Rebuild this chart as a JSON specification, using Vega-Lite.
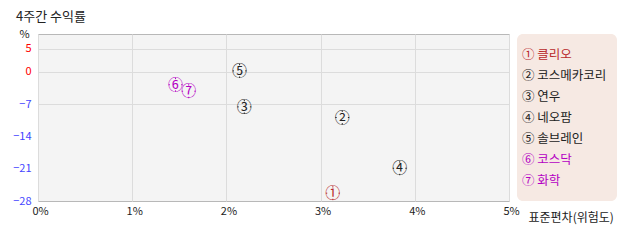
{
  "$schema": "https://vega.github.io/schema/vega-lite/v6.json",
  "width": 471,
  "height": 167,
  "autosize": {"type": "none"},
  "padding": {"left": 38, "top": 34, "right": 129, "bottom": 41},
  "background": "white",
  "title": {"text": "4주간 수익률", "anchor": "start", "frame": "group", "dx": -22, "offset": 4, "fontSize": 13, "fontWeight": "normal", "font": "Noto Sans CJK KR", "color": "#222"},
  "data": {"values": [
    {"num": "①", "label": "① 클리오", "risk": 3.13, "ret": -26.3},
    {"num": "②", "label": "② 코스메카코리", "risk": 3.23, "ret": -9.9},
    {"num": "③", "label": "③ 연우", "risk": 2.19, "ret": -7.6},
    {"num": "④", "label": "④ 네오팜", "risk": 3.84, "ret": -20.9},
    {"num": "⑤", "label": "⑤ 솔브레인", "risk": 2.14, "ret": 0.2},
    {"num": "⑥", "label": "⑥ 코스닥", "risk": 1.46, "ret": -2.8},
    {"num": "⑦", "label": "⑦ 화학", "risk": 1.60, "ret": -4.2}
  ]},
  "encoding": {
    "x": {"field": "risk", "type": "quantitative",
      "scale": {"domain": [0, 5], "nice": false},
      "axis": {"values": [0, 1, 2, 3, 4, 5], "labelExpr": "datum.value + '%'", "labelPadding": 10, "labelOffset": 2, "labelBaseline": "middle", "labelFlush": false,
        "title": "표준편차(위험도)", "titleX": 490, "titleY": 16, "titleAlign": "left", "titleBaseline": "middle", "titleAnchor": "start"}},
    "y": {"field": "ret", "type": "quantitative",
      "scale": {"domain": [-28, 8.2], "nice": false, "zero": false},
      "axis": {"values": [5, 0, -7, -14, -21, -28], "labelPadding": 7,
        "labelColor": {"condition": {"test": "datum.value >= 0", "value": "#ff0000"}, "value": "#4444ff"},
        "gridOpacity": {"condition": {"test": "datum.value >= -7", "value": 1}, "value": 0},
        "title": "%", "titleAngle": 0, "titleX": -14, "titleY": 0, "titleAlign": "center", "titleBaseline": "middle", "titleFontSize": 11}},
    "color": {"field": "label", "type": "nominal",
      "scale": {"domain": ["① 클리오", "② 코스메카코리", "③ 연우", "④ 네오팜", "⑤ 솔브레인", "⑥ 코스닥", "⑦ 화학"],
        "range": ["#b8282a", "#222222", "#222222", "#222222", "#222222", "#b400c4", "#b400c4"]},
      "legend": {"orient": "none", "legendX": 479, "legendY": 0, "title": null,
        "fillColor": "#f6e9e3", "cornerRadius": 6, "padding": 10,
        "symbolType": "square", "symbolSize": 441, "symbolOpacity": 0, "symbolStrokeWidth": 0,
        "labelOffset": -26, "rowPadding": 0,
        "labelFont": "Noto Sans CJK KR", "labelFontSize": 12.5, "labelLimit": 200,
        "encode": {"labels": {"update": {"fill": {"scale": "color", "field": "value"}}}}}}
  },
  "layer": [
    {
      "mark": {"type": "point", "shape": "M0,-1L0,-0.8M0,0.8L0,1M-1,0L-0.8,0M0.8,0L1,0", "filled": false, "strokeWidth": 1, "size": 196, "opacity": 1}
    },
    {
      "mark": {"type": "text", "font": "Noto Sans CJK KR", "fontSize": 15, "align": "center", "baseline": "middle"},
      "encoding": {"text": {"field": "num"}}
    }
  ],
  "config": {
    "view": {"stroke": "#b8b8b8", "fill": "#f4f4f4"},
    "axis": {"domain": false, "ticks": false, "gridColor": "#dcdcdc", "labelFont": "Noto Sans CJK KR", "labelFontSize": 11, "labelColor": "#222",
      "titleFont": "Noto Sans CJK KR", "titleFontSize": 12, "titleFontWeight": "normal", "titleColor": "#222"}
  }
}
